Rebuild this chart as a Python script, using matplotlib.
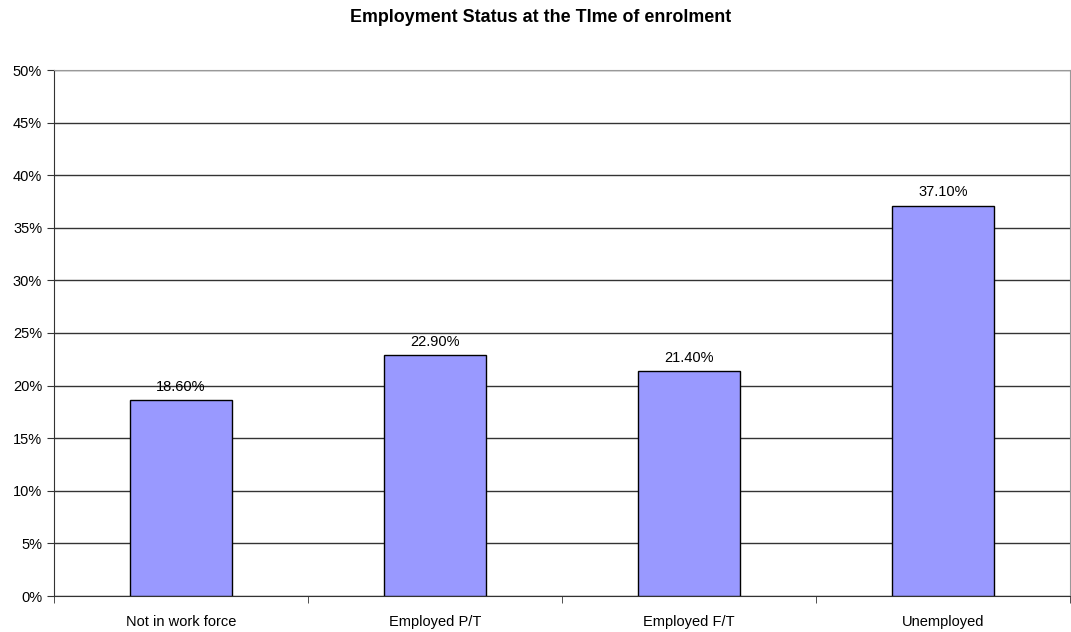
import matplotlib
matplotlib.use('Agg')
import matplotlib.pyplot as plt
import numpy as np

categories = ['Not in work force', 'Employed P/T', 'Employed F/T', 'Unemployed']
values = [18.6, 22.9, 21.4, 37.1]
yticks = [0, 5, 10, 15, 20, 25, 30, 35, 40, 45, 50]

plt.rcParams['font.family'] = ['Liberation Sans', 'DejaVu Sans']

fig = plt.figure(figsize=(10.71, 6.32), dpi=100)
ax = fig.add_axes([54 / 1071, 1 - 596 / 632, (1070 - 54) / 1071, (596 - 70) / 632])

x = np.arange(len(categories))
bars = ax.bar(x, values, width=0.4, color='#9999FF', edgecolor='black', linewidth=1, zorder=3)

for xi, v in zip(x, values):
    ax.text(xi, v + 0.6, f'{v:.2f}%', ha='center', va='bottom', fontsize=10.5)

ax.set_xlim(-0.5, len(categories) - 0.5)
ax.set_ylim(0, 50)
ax.set_yticks(yticks)
ax.set_yticklabels([f'{t}%' for t in yticks], fontsize=10.5)
ax.yaxis.grid(True, color='#333333', linewidth=1, zorder=0)

# category labels centered, ticks at boundaries
ax.set_xticks(x)
ax.set_xticklabels(categories, fontsize=10.5)
ax.tick_params(axis='x', length=0, pad=14)
ax.set_xticks(np.arange(len(categories) + 1) - 0.5, minor=True)
ax.tick_params(axis='x', which='minor', length=5, direction='out', color='#333333')
ax.tick_params(axis='y', length=5, direction='out', color='#333333')

ax.spines['left'].set_color('#333333')
ax.spines['bottom'].set_color('#333333')
ax.spines['top'].set_color('#999999')
ax.spines['right'].set_color('#999999')

fig.text(0.5 + 5 / 1071, 1 - 18 / 632, 'Employment Status at the TIme of enrolment',
         ha='center', va='center', fontsize=12.9, fontweight='bold')

fig.savefig('out.png', dpi=100)
